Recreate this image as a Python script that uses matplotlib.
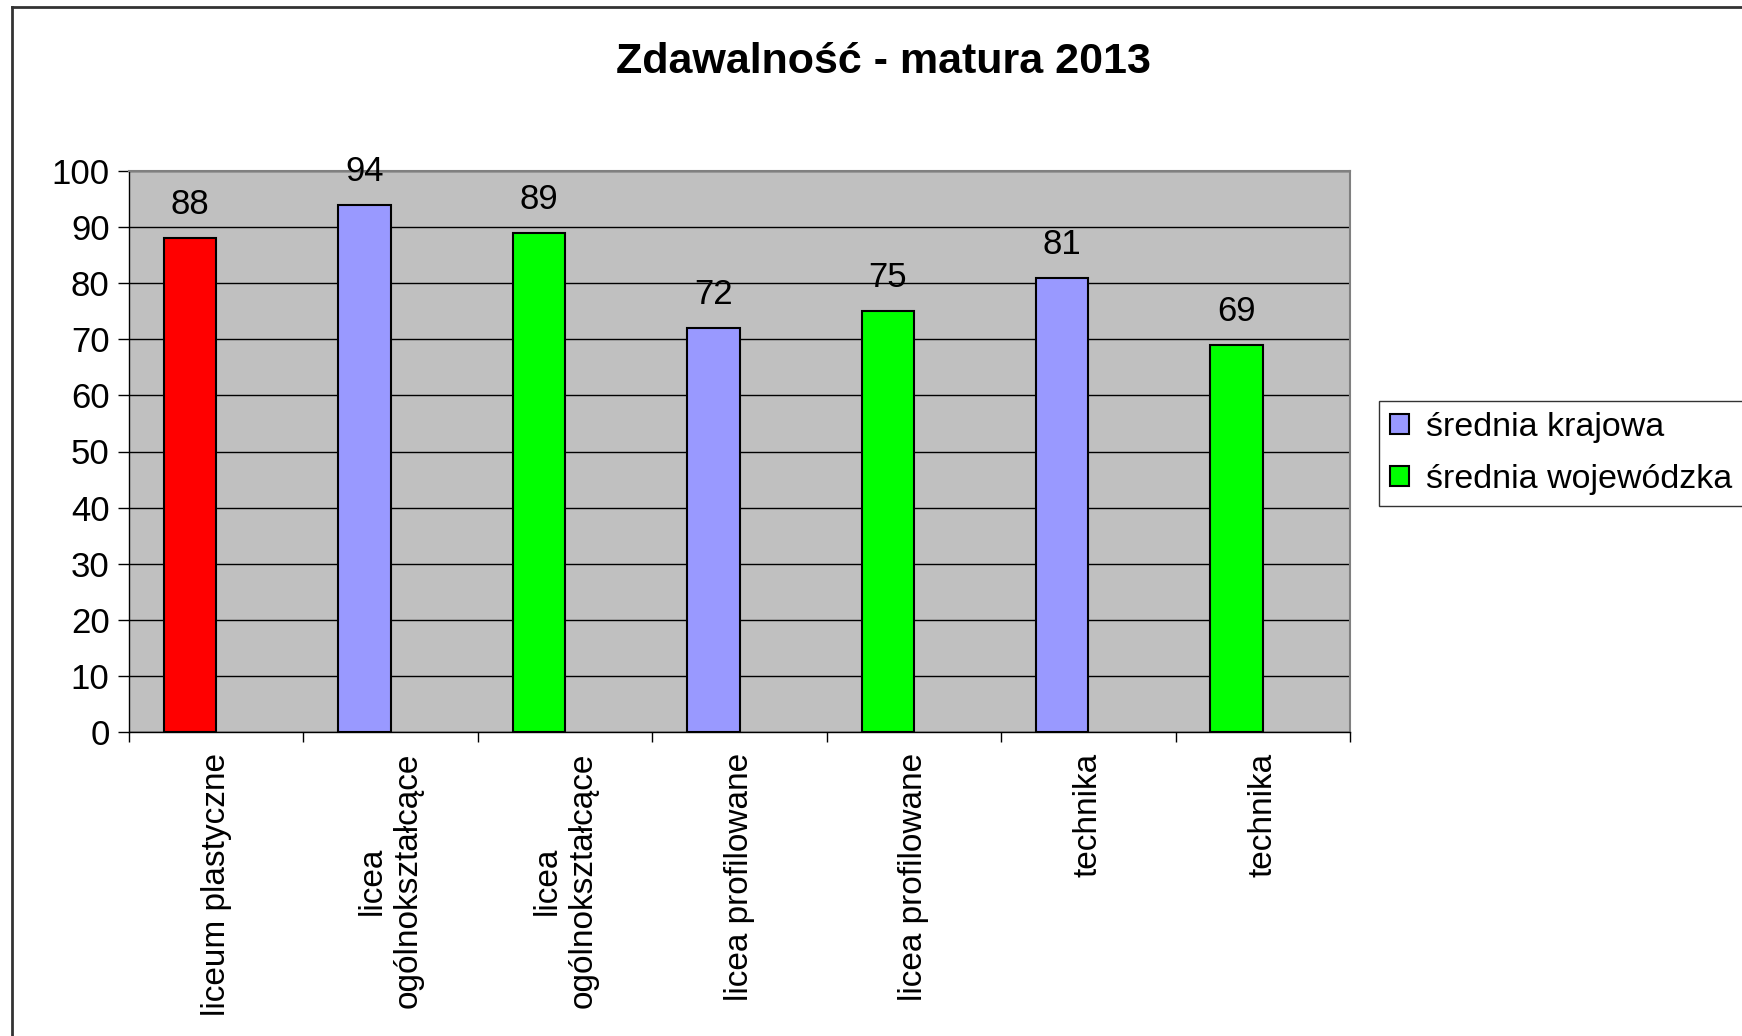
import numpy as np
import matplotlib
matplotlib.use("Agg")
import matplotlib.pyplot as plt
from matplotlib.lines import Line2D
from matplotlib.patches import Patch

plt.rcParams['font.family'] = ['Liberation Sans', 'DejaVu Sans']

# dane
kategorie = ["liceum plastyczne", "licea\nogólnokształcące", "licea\nogólnokształcące",
             "licea profilowane", "licea profilowane", "technika", "technika"]
wartosci = [88, 94, 89, 72, 75, 81, 69]
kolory = ["#FF0000", "#9999FF", "#00FF00", "#9999FF", "#00FF00", "#9999FF", "#00FF00"]
seria_nazwy = ["średnia krajowa", "średnia wojewódzka"]
seria_kolory = ["#9999FF", "#00FF00"]

W, H = 1742, 1036
fig = plt.figure(figsize=(W / 100, H / 100), dpi=100)
ax = fig.add_axes([129 / W, 1 - 732 / H, (1350 - 129) / W, (732 - 171) / H])
ax.set_facecolor("#C0C0C0")

x = np.arange(len(wartosci))
szer = 0.30
ax.bar(x - szer / 2, wartosci, width=szer, color=kolory, edgecolor="black",
       linewidth=1.5, zorder=3)
for xi, v in zip(x, wartosci):
    ax.text(xi - szer / 2, v + 3, str(v), ha="center", va="bottom", fontsize=25)

ax.set_xlim(-0.5, len(wartosci) - 0.5)
ax.set_ylim(0, 100)
ax.set_yticks(range(0, 101, 10))
ax.yaxis.grid(True, color="black", linewidth=1, zorder=1)
ax.tick_params(axis="y", labelsize=25, length=8, width=1, direction="out", pad=6)

ax.set_xticks(x)
ax.set_xticklabels(kategorie, rotation=90, va="top", ha="center",
                   multialignment="center", fontsize=24)
ax.set_xticks(np.arange(-0.5, len(wartosci)), minor=True)
ax.tick_params(axis="x", which="major", length=0, pad=15)
ax.tick_params(axis="x", which="minor", length=7, width=1, direction="out")

for s in ["top", "right"]:
    ax.spines[s].set_color("#808080")
    ax.spines[s].set_linewidth(1.5)
for s in ["left", "bottom"]:
    ax.spines[s].set_color("black")
    ax.spines[s].set_linewidth(1)

fig.text(883 / W, 1 - 62 / H, "Zdawalność - matura 2013", ha="center", va="center",
         fontsize=31, fontweight="bold")

uchwyty = [Patch(facecolor=c, edgecolor="black", linewidth=1.5) for c in seria_kolory]
leg = fig.legend(uchwyty, seria_nazwy, loc="upper left",
                 bbox_to_anchor=(1379 / W, 1 - 401 / H), borderaxespad=0,
                 fontsize=24.5, frameon=True, fancybox=False, edgecolor="black",
                 handlelength=0.55, handleheight=0.55, handletextpad=0.5,
                 labelspacing=0.62, borderpad=0.32)
leg.get_frame().set_linewidth(1)

# ramka slajdu
fig.add_artist(Line2D([12 / W, 12 / W], [0, 1 - 7 / H], color="#333333", linewidth=2))
fig.add_artist(Line2D([12 / W, 1], [1 - 7 / H, 1 - 7 / H], color="#333333", linewidth=2))

fig.savefig("out.png", dpi=100)
